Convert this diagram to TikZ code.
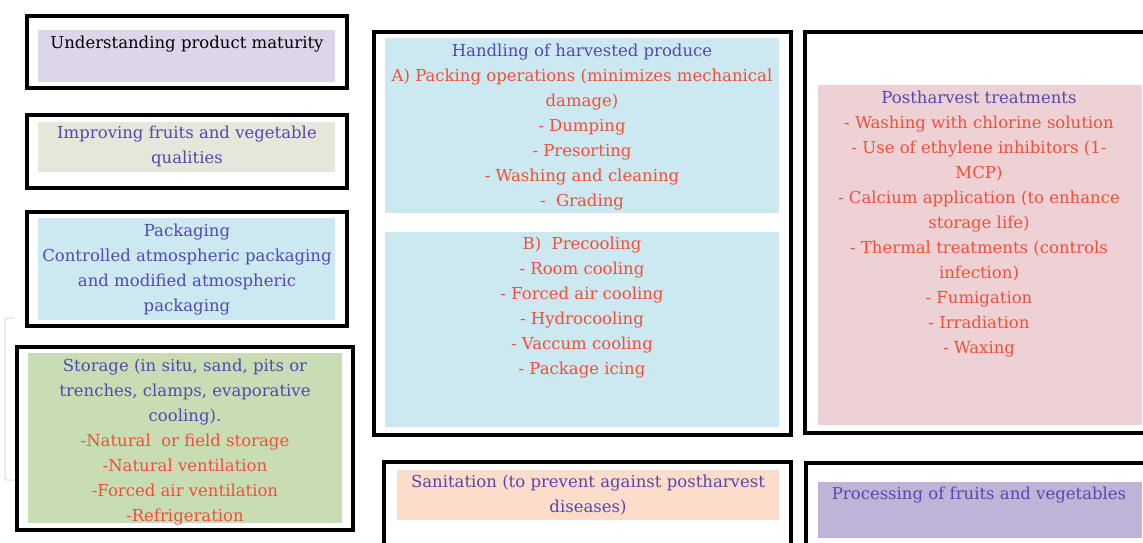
\documentclass[tikz,border=0pt]{standalone}
\usepackage{fontspec}
\setmainfont{DejaVu Serif}
\usepackage{xcolor}
\usepackage{tikz}
\usetikzlibrary{positioning}
\definecolor{PHpurple}{HTML}{5548B0}
\definecolor{PHred}{HTML}{F0503A}
\definecolor{PHlilac}{HTML}{DDD6EA}
\definecolor{PHbeige}{HTML}{E6E6DA}
\definecolor{PHsky}{HTML}{CCE8F1}
\definecolor{PHgreen}{HTML}{C9DDB5}
\definecolor{PHrose}{HTML}{EDD1D4}
\definecolor{PHpeach}{HTML}{FBDDCA}
\definecolor{PHviolet}{HTML}{BFB4D8}
\newcommand{\redline}[1]{\textcolor{PHred}{#1}}

\begin{document}
\begin{tikzpicture}[x=1pt, y=-1pt,
  frame/.style={draw=black, line width=4pt},
  panel/.style={line width=0pt},
  caption/.style={anchor=north, inner sep=0pt, align=center, text=PHpurple, yshift=-2.5pt,
    font=\fontsize{16.5}{25}\selectfont}]
\useasboundingbox (0,0) rectangle (1143,542);
\draw[black!15, line width=1pt, rounded corners=2pt] (14,318) -- (5,318) -- (5,480) -- (14,480);
% left column
\fill[panel, PHlilac] (38,30) rectangle (335,82);   \draw[frame] (27,16) rectangle (347,88);
\node[caption, text=black] (maturity) at (187,33) {Understanding product maturity};
\fill[panel, PHbeige] (38,122) rectangle (335,172); \draw[frame] (27,115) rectangle (347,188);
\node[caption] (quality) at (187,123) {Improving fruits and vegetable\\qualities};
\fill[panel, PHsky] (38,218) rectangle (335,320);   \draw[frame] (27,212) rectangle (347,326);
\node[caption] (packaging) at (187,221) {Packaging\\Controlled atmospheric packaging\\and modified atmospheric\\packaging};
\fill[panel, PHgreen] (28,353) rectangle (342,523); \draw[frame] (17,347) rectangle (353,530);
\node[caption] (storage) at (185,356) {Storage (in situ, sand, pits or\\trenches, clamps, evaporative\\cooling).\\
  \redline{-Natural~ or field storage}\\\redline{-Natural ventilation}\\\redline{-Forced air ventilation}\\\redline{-Refrigeration}};
% middle column
\fill[panel, PHsky] (385,38) rectangle (779,213);
\fill[panel, PHsky] (385,232) rectangle (779,427);  \draw[frame] (374,32) rectangle (791,435);
\node[caption] (packing) at (582,41) {Handling of harvested produce\\\redline{A) Packing operations (minimizes mechanical}\\\redline{damage)}\\
  \redline{- Dumping}\\\redline{- Presorting}\\\redline{- Washing and cleaning}\\\redline{-~ Grading}};
\node[caption, text=PHred] (precooling) at (582,234) {B)~ Precooling\\- Room cooling\\- Forced air cooling\\- Hydrocooling\\- Vaccum cooling\\- Package icing};
\fill[panel, PHpeach] (397,470) rectangle (779,520); \draw[frame] (384,462) rectangle (791,560);
\node[caption] (sanitation) at (588,472) {Sanitation (to prevent against postharvest\\diseases)};
% right column
\fill[panel, PHrose] (818,85) rectangle (1142,425);  \draw[frame] (805,32) rectangle (1150,433);
\node[caption] (treatments) at (979,88) {Postharvest treatments\\\redline{- Washing with chlorine solution}\\\redline{- Use of ethylene inhibitors (1-}\\\redline{MCP)}\\
  \redline{- Calcium application (to enhance}\\\redline{storage life)}\\\redline{- Thermal treatments (controls}\\\redline{infection)}\\
  \redline{- Fumigation}\\\redline{- Irradiation}\\\redline{- Waxing}};
\fill[panel, PHviolet] (818,482) rectangle (1142,538); \draw[frame] (806,463) rectangle (1150,560);
\node[caption] (processing) at (979,484) {Processing of fruits and vegetables};
\end{tikzpicture}
\end{document}
